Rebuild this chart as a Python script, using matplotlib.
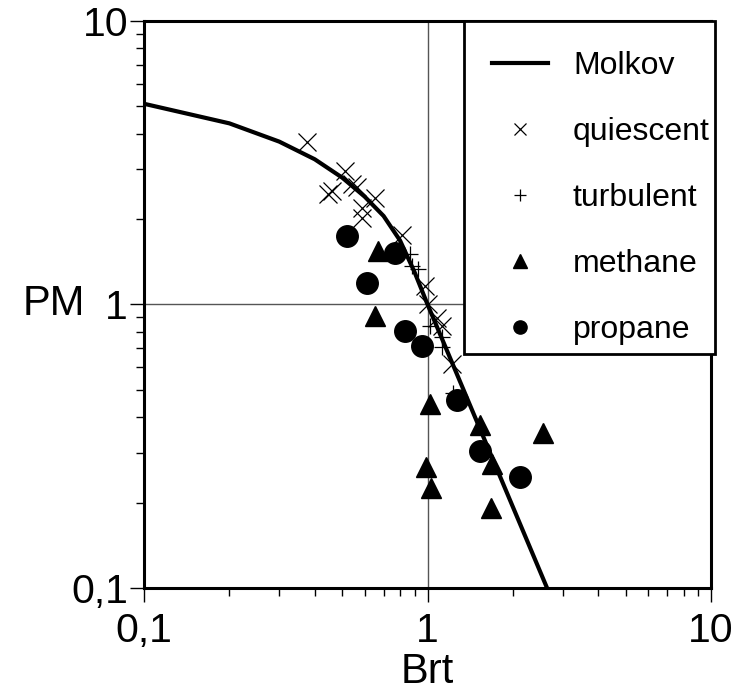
import matplotlib
matplotlib.use("Agg")
import matplotlib.pyplot as plt
from matplotlib.lines import Line2D
from matplotlib.patches import Rectangle

plt.rcParams['font.family'] = ['Liberation Sans', 'DejaVu Sans']

# Molkov correlation curve
molkov_x = [0.1, 0.2, 0.3, 0.4, 0.5, 0.6, 0.7, 0.8, 0.9, 1.0, 2.64]
molkov_y = [5.1, 4.35, 3.75, 3.25, 2.8, 2.4, 2.05, 1.68, 1.3, 1.0, 0.1]

quiescent_x = [0.375, 0.512, 0.446, 0.460, 0.542, 0.564, 0.653, 0.586, 0.586, 0.811, 0.98, 1.006, 1.078, 1.122, 1.217]
quiescent_y = [3.74, 2.95, 2.46, 2.52, 2.65, 2.59, 2.38, 2.18, 2.02, 1.76, 1.16, 1.0, 0.898, 0.838, 0.614]

turbulent_x = [0.868, 0.88, 0.926, 1.02, 1.122, 1.122, 1.23]
turbulent_y = [1.50, 1.365, 1.33, 0.838, 0.765, 0.705, 0.489]

methane_x = [0.671, 0.653, 1.02, 1.531, 2.56, 1.684, 0.986, 1.029, 1.675]
methane_y = [1.54, 0.909, 0.444, 0.377, 0.353, 0.273, 0.268, 0.226, 0.192]

propane_x = [0.519, 0.768, 0.610, 0.833, 0.954, 1.268, 1.531, 2.12]
propane_y = [1.74, 1.52, 1.19, 0.805, 0.713, 0.462, 0.304, 0.247]

tick_vals = [0.1, 1, 10]
tick_labels = ['0,1', '1', '10']
legend_labels = ['Molkov', 'quiescent', 'turbulent', 'methane', 'propane']

fig = plt.figure(figsize=(7.33, 6.95), dpi=100)
ax = fig.add_axes([0.1965, 0.154, 0.7735, 0.816])
ax.set_xscale('log')
ax.set_yscale('log')
ax.set_xlim(0.1, 10)
ax.set_ylim(0.1, 10)

ax.axvline(1, color='#555555', lw=1.0, zorder=1)
ax.axhline(1, color='#555555', lw=1.0, zorder=1)

ax.plot(molkov_x, molkov_y, color='black', lw=3.0, zorder=3)
ax.plot(quiescent_x, quiescent_y, ls='none', marker='x', ms=12.5, mew=0.9, color='black', zorder=4)
ax.plot(turbulent_x, turbulent_y, ls='none', marker='+', ms=11.5, mew=0.9, color='black', zorder=4)
ax.plot(methane_x, methane_y, ls='none', marker='^', ms=15, color='black', zorder=4)
ax.plot(propane_x, propane_y, ls='none', marker='o', ms=15.5, color='black', zorder=4)

ax.set_xticks(tick_vals)
ax.set_xticklabels(tick_labels)
ax.set_yticks(tick_vals)
ax.set_yticklabels(tick_labels)
ax.tick_params(which='major', direction='out', length=10, width=1, labelsize=29.5,
               top=False, right=False)
ax.tick_params(axis='x', which='major', pad=7)
ax.tick_params(axis='y', which='major', pad=1.5)
ax.tick_params(which='minor', direction='out', length=6, width=1,
               top=False, right=False, labelleft=False, labelbottom=False)
for s in ax.spines.values():
    s.set_linewidth(2.2)

ax.set_xlabel('Brt', fontsize=30, va='center')
ax.xaxis.set_label_coords(0.5, -0.148)
ax.set_ylabel('PM', fontsize=30, rotation=0, va='center', ha='center')
ax.yaxis.set_label_coords(-0.159, 0.5)

# legend frame
frame = Rectangle((0.564, 0.4117), 0.443, 0.5883, transform=ax.transAxes,
                  facecolor='white', edgecolor='black', lw=2.0, zorder=9, clip_on=False)
ax.add_patch(frame)

handles = [
    Line2D([], [], color='black', lw=3.0),
    Line2D([], [], ls='none', marker='x', ms=9, mew=0.9, color='black'),
    Line2D([], [], ls='none', marker='+', ms=9, mew=0.9, color='black'),
    Line2D([], [], ls='none', marker='^', ms=9.5, color='black'),
    Line2D([], [], ls='none', marker='o', ms=9.5, color='black'),
]
leg = ax.legend(handles, legend_labels,
                loc='upper left', bbox_to_anchor=(0.614, 0.947), fontsize=23, frameon=False,
                borderpad=0, labelspacing=1.13, handlelength=1.75, handletextpad=0.78,
                borderaxespad=0)
leg.set_zorder(10)

fig.savefig('out.png', dpi=100)
